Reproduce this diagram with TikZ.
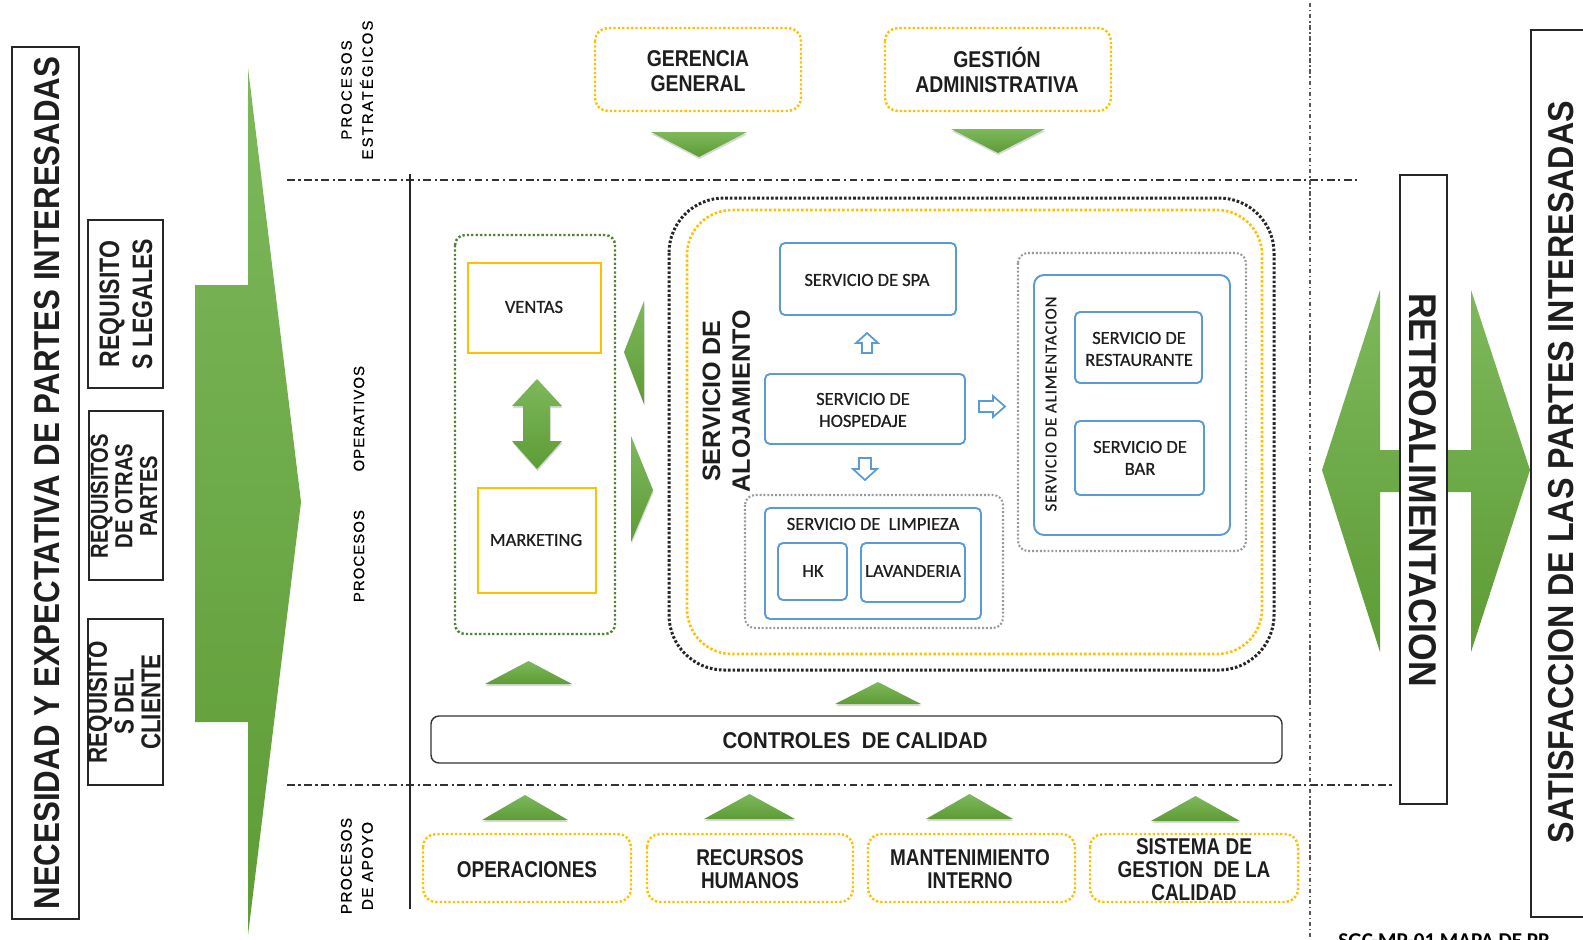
\documentclass[tikz,border=0pt]{standalone}
\usepackage{fontspec}
\setmainfont{Liberation Sans}
\newfontfamily\calib{Carlito}[FakeBold=0.7]
\newfontfamily\calibb{Carlito}[BoldFont={* Bold}]
\usepackage{graphicx}
\usetikzlibrary{shadows}
\definecolor{gtop}{HTML}{7DB85C}
\definecolor{gbot}{HTML}{5E9C35}
\definecolor{gold}{HTML}{FFC000}
\definecolor{blu}{HTML}{5B9BD5}
\definecolor{dkgreen}{HTML}{538135}
\definecolor{ink}{HTML}{1E1E1E}
% one drawing unit (0.2mm)
\newlength\pxu \setlength\pxu{0.2mm}
% stretch or squeeze a text to a given width, keeping its height
\newcommand\fitw[2]{\resizebox{#1\pxu}{\height}{#2}}
% condensed bold block: size, baselineskip, x-factor, lines
\newcommand\narrowb[4]{\scalebox{#3}[1]{\fontsize{#1}{#2}\selectfont\bfseries\begin{tabular}{@{}c@{}}#4\end{tabular}}}
% service labels
\newcommand\svc[1]{{\calib\fontsize{10.5}{12.5}\selectfont\begin{tabular}{@{}c@{}}#1\end{tabular}}}

\tikzset{
  every node/.style={inner sep=0pt, text=ink},
  sv/.style={yshift=-0.5mm},
  nb/.style={yshift=-0.8mm},
  bbox/.style={draw=black!85, line width=1pt},
  gshape/.style={top color=gtop, bottom color=gbot, draw=none},
  gtri/.style={gshape, drop shadow={opacity=0.3, shadow xshift=0.3pt, shadow yshift=-1.2pt}},
  golddot/.style={draw=gold, line width=1.4pt, dash pattern=on 1.3pt off 1.2pt, rounded corners=2.6mm},
  greendot/.style={draw=dkgreen, line width=1.4pt, dash pattern=on 1.3pt off 1.2pt, rounded corners=2mm},
  blackdot/.style={draw=black!85, line width=1.7pt, dash pattern=on 1.5pt off 1.1pt, rounded corners=11mm},
  golddotb/.style={draw=gold, line width=1.5pt, dash pattern=on 1.4pt off 1.2pt, rounded corners=9mm},
  graydot/.style={draw=black!40, line width=1.2pt, dash pattern=on 1.1pt off 1.1pt, rounded corners=2mm},
  blubox/.style={draw=blu, line width=1.1pt, rounded corners=1mm},
  goldbox/.style={draw=gold, line width=1.1pt},
  hollow/.style={draw=blu, line width=1pt, fill=white, line join=miter},
  dashdot/.style={draw=black!80, line width=0.8pt, dash pattern=on 4.5pt off 2pt on 1.2pt off 2pt},
  dashdotdot/.style={draw=black!65, line width=0.8pt, dash pattern=on 2.5pt off 1.5pt on 0.8pt off 1.5pt},
  lbl/.style={text=black, rotate=90},
}

\begin{document}
\begin{tikzpicture}[x=0.2mm,y=-0.2mm]
\useasboundingbox (0,0) rectangle (1583,939);
\clip (0,0) rectangle (1583,939);

% band separators
\draw[dashdot] (287,180) -- (1358,180);
\draw[dashdot] (287,785) -- (1393,785);
\draw[black!85, line width=0.9pt] (410,174) -- (410,909);
\draw[dashdotdot] (1310,3) -- (1310,939);

% inputs column
\draw[bbox] (12,47) rectangle (79,919);
\node[rotate=90] (needs) at (47,483) {\fitw{853}{\fontsize{20.5}{24}\selectfont\bfseries NECESIDAD Y EXPECTATIVA DE PARTES INTERESADAS}};
\draw[bbox] (88,220) rectangle (163,388);
\node[rotate=90] (reqleg) at (129,304) {\narrowb{16}{18.8}{0.82}{REQUISITO\\S LEGALES}};
\draw[bbox] (89,411) rectangle (163,580);
\node[rotate=90] (reqotr) at (127.5,496) {\narrowb{14}{14}{0.82}{REQUISITOS\\DE OTRAS\\PARTES}};
\draw[bbox] (88,619) rectangle (163,785);
\node[rotate=90] (reqcli) at (128,702) {\narrowb{15.5}{14.8}{0.82}{REQUISITO\\S DEL\\CLIENTE}};

% big input arrow
\path[gshape] (195,285) -- (248,285) -- (248,68) -- (301,502) -- (248,935) -- (248,722) -- (195,722) -- cycle;

% band labels
\node[lbl] (lstrat) at (358,90) {\fontsize{8.5}{12}\selectfont\addfontfeature{LetterSpace=14,FakeBold=0.5}\begin{tabular}{@{}c@{}}PROCESOS\\ESTRATÉGICOS\end{tabular}};
\node[lbl] (loper) at (359,484) {\fontsize{8.5}{10}\selectfont\addfontfeature{LetterSpace=7,FakeBold=0.5}PROCESOS\hspace{22pt}OPERATIVOS};
\node[lbl] (lapoyo) at (358,866) {\fontsize{8.8}{12}\selectfont\addfontfeature{LetterSpace=8,FakeBold=0.5}\begin{tabular}{@{}c@{}}PROCESOS\\DE APOYO\end{tabular}};

% strategic processes
\draw[golddot] (595,28) rectangle (801,111);
\node[nb] (ger) at (698,70) {\narrowb{13}{14.4}{0.85}{GERENCIA\\GENERAL}};
\draw[golddot] (885,28) rectangle (1111,111);
\node[nb] (gest) at (997,70) {\narrowb{13}{14.4}{0.85}{GESTIÓN\\ADMINISTRATIVA}};
\path[gtri] (651,132) -- (747,132) -- (699,157) -- cycle;
\path[gtri] (951,129) -- (1045,129) -- (998,153) -- cycle;

% sales and marketing
\draw[greendot] (455,235) rectangle (615,634);
\draw[goldbox] (468,263) rectangle (601,353);
\node[sv] (ventas) at (534,306) {\svc{VENTAS}};
\draw[goldbox] (478,488) rectangle (596,593);
\node[sv] (mkt) at (536,539) {\svc{MARKETING}};
\path[gtri] (537,379) -- (562,406) -- (550,406) -- (550,441) -- (562,441) -- (537,469) -- (512,441) -- (523,441) -- (523,406) -- (512,406) -- cycle;
\path[gtri] (644,301) -- (644,404) -- (624,352) -- cycle;
\path[gtri] (631,436) -- (631,542) -- (653,490) -- cycle;

% lodging service
\draw[blackdot] (669,198) rectangle (1274,670);
\draw[golddotb] (687,210) rectangle (1262,654);
\node[rotate=90] (aloj) at (729,401) {\fontsize{14.3}{17}\selectfont\bfseries\begin{tabular}{@{}c@{}}SERVICIO DE\\ALOJAMIENTO\end{tabular}};

\draw[blubox] (780,243) rectangle (956,315);
\node[sv] (spa) at (867,279) {\svc{SERVICIO DE SPA}};
\draw[hollow] (856,343) -- (867,333) -- (878,343) -- (872,343) -- (872,353) -- (862,353) -- (862,343) -- cycle;
\draw[blubox] (765,374) rectangle (965,444);
\node[sv] (hosp) at (863,409) {\svc{SERVICIO DE\\HOSPEDAJE}};
\draw[hollow] (979,401) -- (993,401) -- (993,396) -- (1005,406.5) -- (993,417) -- (993,412) -- (979,412) -- cycle;
\draw[hollow] (859,458) -- (871,458) -- (871,469) -- (877,469) -- (865,480) -- (853,469) -- (859,469) -- cycle;

\draw[graydot] (745,495) rectangle (1003,628);
\draw[blubox] (765,508) rectangle (981,619);
\node[sv] (limp) at (873,523) {\svc{SERVICIO DE\ \ LIMPIEZA}};
\draw[blubox] (778,543) rectangle (847,600);
\node[sv] (hk) at (813,570) {\svc{HK}};
\draw[blubox] (861,543) rectangle (965,602);
\node[sv] (lav) at (913,570) {\svc{LAVANDERIA}};

\draw[graydot] (1018,253) rectangle (1246,551);
\draw[blubox, rounded corners=2mm] (1034,275) rectangle (1230,535);
\node[rotate=90] (alim) at (1051,404) {{\calib\fontsize{9.5}{11}\selectfont\addfontfeature{LetterSpace=6}SERVICIO DE ALIMENTACION}};
\draw[blubox] (1075,312) rectangle (1202,383);
\node[sv] (rest) at (1139,348) {\svc{SERVICIO DE\\RESTAURANTE}};
\draw[blubox] (1075,421) rectangle (1204,495);
\node[sv] (bar) at (1140,457) {\svc{SERVICIO DE\\BAR}};

\path[gtri] (485,684) -- (572,684) -- (528.5,661) -- cycle;
\path[gtri] (835,704) -- (921,704) -- (878,682) -- cycle;

% quality control bar
\draw[draw=black!80, line width=0.8pt, rounded corners=1.6mm] (431,716) rectangle (1282,763);
\node (ctrl) at (855,741) {\fitw{265}{\fontsize{13}{15}\selectfont\bfseries CONTROLES\ \ DE CALIDAD}};

% support processes
\path[gtri] (482,820) -- (568,820) -- (525,795) -- cycle;
\path[gtri] (704,819) -- (795,819) -- (749.5,794) -- cycle;
\path[gtri] (926,819) -- (1013,819) -- (969.5,794) -- cycle;
\path[gtri] (1151,821) -- (1240,821) -- (1195.5,796) -- cycle;
\draw[golddot] (423,834) rectangle (631,902);
\node[nb] (oper) at (527,869) {\narrowb{13}{13.2}{0.83}{OPERACIONES}};
\draw[golddot] (647,834) rectangle (853,902);
\node[nb] (rrhh) at (750,868) {\narrowb{13}{13.2}{0.83}{RECURSOS\\HUMANOS}};
\draw[golddot] (868,834) rectangle (1075,902);
\node[nb] (mant) at (970,868) {\narrowb{13}{13.2}{0.83}{MANTENIMIENTO\\INTERNO}};
\draw[golddot] (1090,834) rectangle (1298,902);
\node[nb] (sgc) at (1194,869) {\narrowb{13}{13.2}{0.83}{SISTEMA DE\\GESTION\ \ DE LA\\CALIDAD}};

% feedback and outputs
\path[gshape] (1322,470) -- (1380,290) -- (1380,450) -- (1471,450) -- (1471,290) -- (1530,470) -- (1471,652) -- (1471,492) -- (1380,492) -- (1380,652) -- cycle;
\draw[bbox, fill=white] (1400,175) rectangle (1447,804);
\node[rotate=-90] (retro) at (1423,490) {\fitw{394}{\fontsize{22}{26}\selectfont\bfseries RETROALIMENTACION}};
\draw[bbox] (1531,30) rectangle (1600,917);
\node[rotate=90] (satis) at (1561,472) {\fitw{742}{\fontsize{20.5}{24}\selectfont\bfseries SATISFACCION DE LAS PARTES INTERESADAS}};

\node[anchor=base west, text=black] (code) at (1338,947) {{\calibb\fontsize{12}{14}\selectfont\bfseries SGC-MP-01 MAPA DE PR}};
\end{tikzpicture}
\end{document}
